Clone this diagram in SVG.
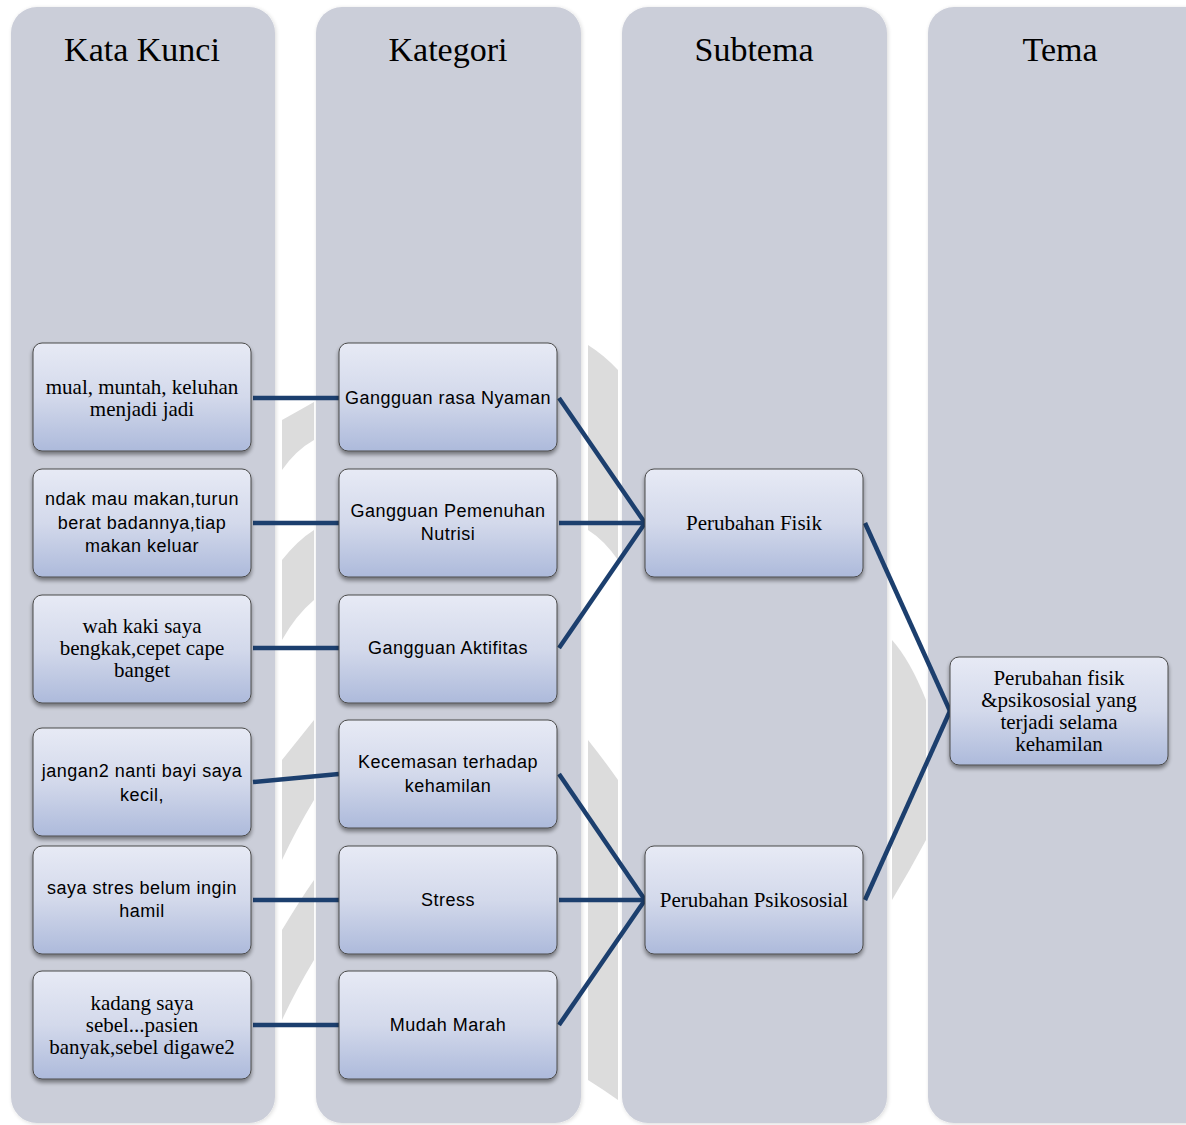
<svg xmlns="http://www.w3.org/2000/svg" width="1186" height="1125" viewBox="0 0 1186 1125">
<defs>
<linearGradient id="boxg" x1="0" y1="0" x2="0" y2="1">
<stop offset="0" stop-color="#e7eaf5"/>
<stop offset="0.5" stop-color="#d3d9eb"/>
<stop offset="1" stop-color="#adbadb"/>
</linearGradient>
<filter id="sh" x="-10%" y="-10%" width="120%" height="130%">
<feGaussianBlur in="SourceAlpha" stdDeviation="2"/>
<feOffset dx="0" dy="3" result="b"/>
<feComponentTransfer><feFuncA type="linear" slope="0.45"/></feComponentTransfer>
<feMerge><feMergeNode/><feMergeNode in="SourceGraphic"/></feMerge>
</filter>
<filter id="csh" x="-5%" y="-2%" width="110%" height="104%">
<feGaussianBlur in="SourceAlpha" stdDeviation="2"/>
<feOffset dx="1" dy="1"/>
<feComponentTransfer><feFuncA type="linear" slope="0.15"/></feComponentTransfer>
<feMerge><feMergeNode/><feMergeNode in="SourceGraphic"/></feMerge>
</filter>
</defs>
<style>
.col{fill:#cbced9;filter:url(#csh)}
.box{fill:url(#boxg);stroke:#4a4a4a;stroke-width:1;filter:url(#sh)}
.hd{font-family:"Liberation Serif",serif;font-size:34px;fill:#000;text-anchor:middle}
.sf{font-family:"Liberation Serif",serif;font-size:21px;fill:#000;text-anchor:middle}
.ss{font-family:"Liberation Sans",sans-serif;font-size:18px;letter-spacing:0.5px;fill:#000;text-anchor:middle}
.ln{stroke:#1c3f6e;stroke-width:4.5;fill:none}
.wm{fill:#dcdcdc}
</style>
<rect width="1186" height="1125" fill="#ffffff"/>
<g id="watermark">
<path class="wm" d="M282,420 Q300,410 314,402 L314,440 Q296,450 282,470 Z"/>
<path class="wm" d="M282,560 Q298,540 314,530 L314,600 Q296,615 282,640 Z"/>
<path class="wm" d="M282,760 Q298,740 314,720 L314,800 Q296,830 282,860 Z"/>
<path class="wm" d="M282,930 Q300,900 314,880 L314,960 Q296,990 282,1020 Z"/>
<path class="wm" d="M588,345 Q604,355 618,370 L618,560 Q604,540 588,530 Z"/>
<path class="wm" d="M588,740 Q604,760 618,780 L618,1100 Q604,1090 588,1080 Z"/>
<path class="wm" d="M892,640 Q910,660 926,700 L926,840 Q910,870 892,900 Z"/>
</g>
<g id="columns">
<g id="col-kata-kunci"><rect class="col" x="11" y="7" width="264" height="1116" rx="26"/><text class="hd" x="142" y="61">Kata Kunci</text></g>
<g id="col-kategori"><rect class="col" x="316" y="7" width="265" height="1116" rx="26"/><text class="hd" x="448" y="61">Kategori</text></g>
<g id="col-subtema"><rect class="col" x="622" y="7" width="265" height="1116" rx="26"/><text class="hd" x="754" y="61">Subtema</text></g>
<g id="col-tema"><rect class="col" x="928" y="7" width="290" height="1116" rx="26"/><text class="hd" x="1060" y="61">Tema</text></g>
</g>
<g id="connectors">
<line class="ln" x1="253" y1="398" x2="339" y2="398"/>
<line class="ln" x1="253" y1="523" x2="339" y2="523"/>
<line class="ln" x1="253" y1="648" x2="339" y2="648"/>
<line class="ln" x1="253" y1="782" x2="339" y2="774"/>
<line class="ln" x1="253" y1="900" x2="339" y2="900"/>
<line class="ln" x1="253" y1="1025" x2="339" y2="1025"/>
<line class="ln" x1="559" y1="398" x2="645" y2="523"/>
<line class="ln" x1="559" y1="523" x2="645" y2="523"/>
<line class="ln" x1="559" y1="648" x2="645" y2="523"/>
<line class="ln" x1="559" y1="774" x2="645" y2="900"/>
<line class="ln" x1="559" y1="900" x2="645" y2="900"/>
<line class="ln" x1="559" y1="1025" x2="645" y2="900"/>
<line class="ln" x1="865" y1="523" x2="950" y2="711"/>
<line class="ln" x1="865" y1="900" x2="950" y2="711"/>
</g>
<g id="k1"><rect class="box" x="33" y="343" width="218" height="108" rx="9"/><text class="sf" x="142" y="394">mual, muntah, keluhan</text><text class="sf" x="142" y="416">menjadi jadi</text></g>
<g id="k2"><rect class="box" x="33" y="469" width="218" height="108" rx="9"/><text class="ss" x="142" y="505">ndak mau makan,turun</text><text class="ss" x="142" y="529">berat badannya,tiap</text><text class="ss" x="142" y="552">makan keluar</text></g>
<g id="k3"><rect class="box" x="33" y="595" width="218" height="108" rx="9"/><text class="sf" x="142" y="633">wah kaki saya</text><text class="sf" x="142" y="655">bengkak,cepet cape</text><text class="sf" x="142" y="677">banget</text></g>
<g id="k4"><rect class="box" x="33" y="728" width="218" height="108" rx="9"/><text class="ss" x="142" y="777">jangan2 nanti bayi saya</text><text class="ss" x="142" y="801">kecil,</text></g>
<g id="k5"><rect class="box" x="33" y="846" width="218" height="108" rx="9"/><text class="ss" x="142" y="894">saya stres belum ingin</text><text class="ss" x="142" y="917">hamil</text></g>
<g id="k6"><rect class="box" x="33" y="971" width="218" height="108" rx="9"/><text class="sf" x="142" y="1010">kadang saya</text><text class="sf" x="142" y="1032">sebel...pasien</text><text class="sf" x="142" y="1054">banyak,sebel digawe2</text></g>
<g id="c1"><rect class="box" x="339" y="343" width="218" height="108" rx="9"/><text class="ss" x="448" y="404">Gangguan rasa Nyaman</text></g>
<g id="c2"><rect class="box" x="339" y="469" width="218" height="108" rx="9"/><text class="ss" x="448" y="517">Gangguan Pemenuhan</text><text class="ss" x="448" y="540">Nutrisi</text></g>
<g id="c3"><rect class="box" x="339" y="595" width="218" height="108" rx="9"/><text class="ss" x="448" y="654">Gangguan Aktifitas</text></g>
<g id="c4"><rect class="box" x="339" y="720" width="218" height="108" rx="9"/><text class="ss" x="448" y="768">Kecemasan terhadap</text><text class="ss" x="448" y="792">kehamilan</text></g>
<g id="c5"><rect class="box" x="339" y="846" width="218" height="108" rx="9"/><text class="ss" x="448" y="906">Stress</text></g>
<g id="c6"><rect class="box" x="339" y="971" width="218" height="108" rx="9"/><text class="ss" x="448" y="1031">Mudah Marah</text></g>
<g id="s1"><rect class="box" x="645" y="469" width="218" height="108" rx="9"/><text class="sf" x="754" y="530">Perubahan Fisik</text></g>
<g id="s2"><rect class="box" x="645" y="846" width="218" height="108" rx="9"/><text class="sf" x="754" y="907">Perubahan Psikososial</text></g>
<g id="t1"><rect class="box" x="950" y="657" width="218" height="108" rx="9"/><text class="sf" x="1059" y="685">Perubahan fisik</text><text class="sf" x="1059" y="707">&amp;psikososial yang</text><text class="sf" x="1059" y="729">terjadi selama</text><text class="sf" x="1059" y="751">kehamilan</text></g>
</svg>
